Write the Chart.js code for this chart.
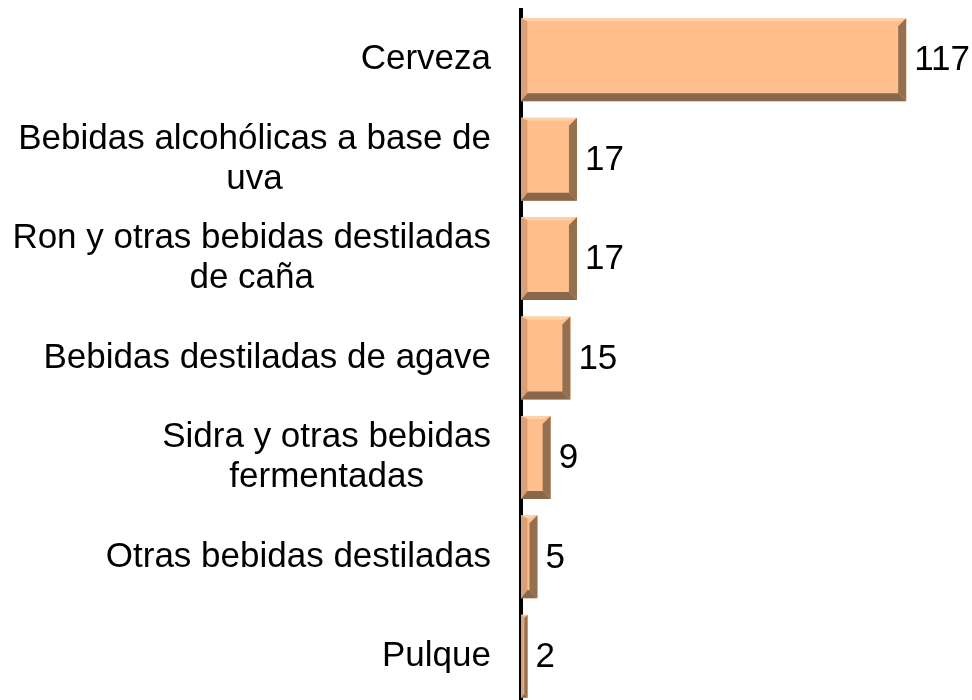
<!DOCTYPE html>
<html>
<head>
<meta charset="utf-8">
<script src="https://cdn.jsdelivr.net/npm/chart.js@4"></script>
<style>
    html, body { margin: 0; padding: 0; background: #ffffff; overflow: hidden; }
    #wrap { position: relative; width: 972px; height: 710px; }
</style>
</head>
<body>
<div id="wrap"><canvas id="chart"></canvas></div>
<script>
// Datos
const categories = [
    ['Cerveza'],
    ['Bebidas alcohólicas a base de', 'uva'],
    ['Ron y otras bebidas destiladas', 'de caña'],
    ['Bebidas destiladas de agave'],
    ['Sidra y otras bebidas', 'fermentadas'],
    ['Otras bebidas destiladas'],
    ['Pulque']
];
const values = [117, 17, 17, 15, 9, 5, 2];

const FONT = '35px "Liberation Sans", Arial, sans-serif';
const LINE_H = 40;

// Etiquetas del eje con líneas centradas, bloque alineado a la derecha
const categoryLabels = {
    id: 'categoryLabels',
    afterDraw(chart) {
        const ctx = chart.ctx;
        const yScale = chart.scales.y;
        const rightEdge = yScale.right - 30;
        ctx.save();
        ctx.font = FONT;
        ctx.fillStyle = '#000000';
        ctx.textAlign = 'center';
        ctx.textBaseline = 'middle';
        categories.forEach((lines, i) => {
            const yc = yScale.getPixelForTick(i);
            const w = Math.max(...lines.map(l => ctx.measureText(l).width));
            const cx = rightEdge - w / 2;
            const y0 = yc - (lines.length - 1) * LINE_H / 2;
            lines.forEach((line, j) => ctx.fillText(line, cx, y0 + j * LINE_H));
        });
        ctx.restore();
    }
};

// Biselado de las barras y valores
const bevelBars = {
    id: 'bevelBars',
    afterDatasetsDraw(chart) {
        const ctx = chart.ctx;
        const meta = chart.getDatasetMeta(0);
        ctx.save();
        meta.data.forEach((bar, i) => {
            const p = bar.getProps(['x', 'y', 'base', 'height'], true);
            const left = Math.min(p.base, p.x);
            const right = Math.max(p.base, p.x);
            const top = p.y - p.height / 2;
            const bottom = p.y + p.height / 2;
            const b = Math.min(8, (right - left) / 2);

            const poly = (pts, color) => {
                ctx.beginPath();
                ctx.moveTo(pts[0][0], pts[0][1]);
                pts.slice(1).forEach(pt => ctx.lineTo(pt[0], pt[1]));
                ctx.closePath();
                ctx.fillStyle = color;
                ctx.fill();
            };
            // arriba
            poly([[left, top], [right, top], [right - b, top + b * 0.4], [left + b, top + b * 0.4]], '#FFD1A8');
            // izquierda
            poly([[left, top], [left + b * 0.8, top + b * 0.4], [left + b * 0.8, bottom - b], [left, bottom]], '#D9A175');
            // derecha
            poly([[right, top], [right, bottom], [right - b, bottom - b], [right - b, top + b]], '#946F50');
            // abajo
            poly([[left, bottom], [right, bottom], [right - b, bottom - b], [left + b * 0.8, bottom - b]], '#89674A');

            ctx.font = FONT;
            ctx.fillStyle = '#000000';
            ctx.textAlign = 'left';
            ctx.textBaseline = 'middle';
            ctx.fillText(String(values[i]), right + 8, p.y + 1);
        });
        ctx.restore();
    }
};

new Chart(document.getElementById('chart').getContext('2d'), {
    type: 'bar',
    data: {
        labels: categories,
        datasets: [{
            data: values,
            backgroundColor: '#FFBF8C',
            borderWidth: 0,
            barPercentage: 0.835,
            categoryPercentage: 1
        }]
    },
    options: {
        indexAxis: 'y',
        responsive: true,
        maintainAspectRatio: false,
        animation: false,
        layout: { padding: { top: 10, right: 23, bottom: 4, left: 0 } },
        plugins: {
            legend: { display: false },
            tooltip: { enabled: false },
            title: { display: false }
        },
        scales: {
            x: {
                display: false,
                min: 0,
                max: 130
            },
            y: {
                z: 1,
                grid: { display: false, drawTicks: false },
                border: { display: true, color: '#000000', width: 4 },
                ticks: { display: false },
                afterFit(scale) { scale.width = 521; }
            }
        }
    },
    plugins: [bevelBars, categoryLabels]
});
</script>
</body>
</html>
